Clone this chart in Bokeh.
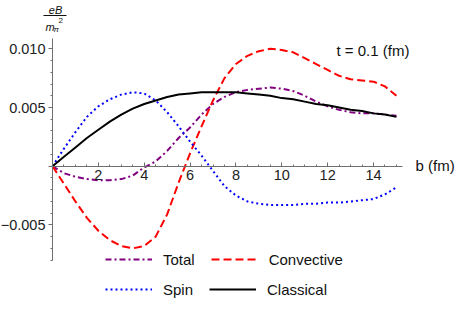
import numpy as np
from bokeh.plotting import figure
from bokeh.models import (FixedTicker, Label, Legend, LegendItem, BoxAnnotation)
from bokeh.embed import file_html
from bokeh.resources import INLINE

# ---- data ----
b = [0.0, 0.5, 1.0, 1.5, 2.0, 2.5, 3.0, 3.5, 4.0, 4.5, 5.0, 5.5, 6.0, 6.5, 7.0, 7.5,
     8.0, 8.5, 9.0, 9.5, 10.0, 10.5, 11.0, 11.5, 12.0, 12.5, 13.0, 13.5, 14.0, 14.5, 15.0]
total = [0.0, -0.0006, -0.0009, -0.0011, -0.0012, -0.0012, -0.0011, -0.0008, -0.0001, 0.0004,
         0.0013, 0.0024, 0.0033, 0.0044, 0.0053, 0.0059, 0.0063, 0.0065, 0.0066, 0.0067,
         0.0066, 0.0064, 0.0060, 0.0055, 0.0051, 0.0048, 0.0046, 0.0045, 0.0045, 0.0044, 0.0043]
convective = [0.0, -0.0015, -0.0030, -0.0044, -0.0055, -0.0063, -0.0068, -0.0070, -0.0068, -0.0060,
              -0.0041, -0.0014, 0.0011, 0.0034, 0.0056, 0.0075, 0.0087, 0.0094, 0.0098, 0.0100,
              0.0099, 0.0097, 0.0092, 0.0087, 0.0082, 0.0077, 0.0074, 0.0073, 0.0072, 0.0068, 0.0060]
spin = [0.0, 0.0015, 0.0029, 0.0042, 0.0051, 0.0057, 0.0061, 0.0063, 0.0062, 0.0056,
        0.0046, 0.0034, 0.0021, 0.0009, -0.0004, -0.0017, -0.0025, -0.0030, -0.0032, -0.0033,
        -0.0033, -0.0033, -0.0032, -0.0032, -0.0031, -0.0031, -0.0030, -0.0029, -0.0028, -0.0024, -0.0018]
classical = [0.0, 0.0008, 0.0016, 0.0024, 0.0031, 0.0038, 0.0044, 0.0049, 0.0053, 0.0056,
             0.0059, 0.0061, 0.0062, 0.0063, 0.0063, 0.0063, 0.0063, 0.0062, 0.0061, 0.0060,
             0.0058, 0.0057, 0.0055, 0.0053, 0.0052, 0.0050, 0.0048, 0.0047, 0.0045, 0.0044, 0.0042]

x_major = [2, 4, 6, 8, 10, 12, 14]
y_major = [-0.005, 0.0, 0.005, 0.010]
y_labels = {-0.005: "\u22120.005", 0.0: "", 0.005: "0.005", 0.010: "0.010"}

FONT = "Liberation Sans"
W, H = 457, 327

p = figure(width=W, height=H, x_range=(-2.268, 17.663), y_range=(-0.013739, 0.014114),
           output_backend="svg", toolbar_location=None, min_border=0)
p.grid.visible = False
p.outline_line_color = None

x_minor = [v for v in np.arange(0.5, 15.01, 0.5) if v not in x_major]
y_minor = [round(v, 4) for v in np.arange(-0.008, 0.0105, 0.001)]

p.xaxis.ticker = FixedTicker(ticks=x_major, minor_ticks=x_minor)
p.yaxis.ticker = FixedTicker(ticks=y_major, minor_ticks=y_minor)
p.yaxis.major_label_overrides = y_labels
p.xaxis.fixed_location = 0
p.yaxis.fixed_location = 0
p.xaxis.bounds = (0, 15.25)
p.yaxis.bounds = (-0.00803, 0.0109)

for ax in (p.xaxis, p.yaxis):
    ax.axis_line_color = "#6e6e6e"
    ax.major_tick_line_color = "#6e6e6e"
    ax.minor_tick_line_color = "#6e6e6e"
    ax.major_label_text_font = FONT
    ax.major_label_text_font_size = "14.5px"
    ax.major_label_text_color = "#222222"

p.xaxis.major_tick_in = 4
p.xaxis.major_tick_out = 0
p.xaxis.minor_tick_in = 2
p.xaxis.minor_tick_out = 0
p.xaxis.major_label_standoff = 4
p.yaxis.major_tick_in = 0
p.yaxis.major_tick_out = 4
p.yaxis.minor_tick_in = 0
p.yaxis.minor_tick_out = 2
p.yaxis.major_label_standoff = 3

r_total = p.line(b, total, line_color="#800080", line_width=2, line_dash="6 3 2 3")
r_conv = p.line(b, convective, line_color="#ff0000", line_width=2, line_dash="8 4")
r_spin = p.line(b, spin, line_color="#0000ff", line_width=2, line_dash="2 3")
r_cls = p.line(b, classical, line_color="#000000", line_width=2)

def legend_row(items, vy):
    lg = Legend(items=items, orientation="horizontal", location=(105, vy),
                glyph_width=47, glyph_height=20, label_standoff=11, spacing=16,
                padding=0, margin=0, border_line_color=None, background_fill_alpha=0,
                label_text_font=FONT, label_text_font_size="15px", label_text_color="#111111")
    p.add_layout(lg, "center")

legend_row([LegendItem(label="Total", renderers=[r_total]),
            LegendItem(label="Convective", renderers=[r_conv])], 58)
legend_row([LegendItem(label="Spin", renderers=[r_spin]),
            LegendItem(label="Classical", renderers=[r_cls])], 28)

def scr(px, py):
    return px, H - py

def lab(text, px, py, size, style="normal", align="left"):
    x, y = scr(px, py)
    p.add_layout(Label(x=x, y=y, x_units="screen", y_units="screen", text=text,
                       text_font=FONT, text_font_size=size, text_font_style=style,
                       text_align=align, text_baseline="middle", text_color="#111111"))

lab("t = 0.1 (fm)", 336, 50, "15px")
lab("b (fm)", 415, 165, "15px")
lab("eB", 55, 9, "11px", "italic", "center")
lab("m", 45, 26, "11px", "italic")
lab("\u03c0", 53, 29, "8px", "italic")
lab("2", 58, 20, "8px")
l, t = scr(43, 15)
p.add_layout(BoxAnnotation(left=l, right=l + 23, bottom=t - 0.5, top=t + 0.5,
                           left_units="screen", right_units="screen",
                           bottom_units="screen", top_units="screen",
                           fill_color="#111111", fill_alpha=1, line_color=None))

open("out.html", "w").write(file_html(p, INLINE))
